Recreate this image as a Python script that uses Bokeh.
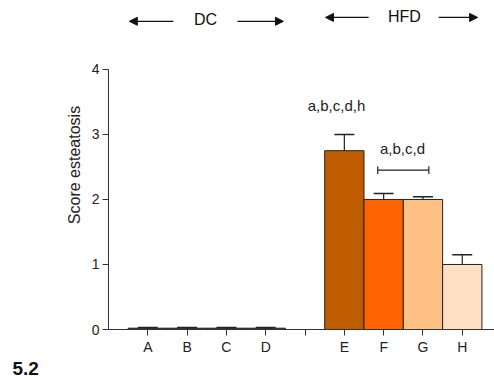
from bokeh.plotting import figure
from bokeh.models import (ColumnDataSource, Whisker, TeeHead, Arrow, NormalHead,
                          Label, FixedTicker, Range1d, Title)
from bokeh.embed import file_html
from bokeh.resources import INLINE

# ---- data ----
groups = ["A", "B", "C", "D", "E", "F", "G", "H"]
positions = [1, 2, 3, 4, 6, 7, 8, 9]
scores = [0.02, 0.02, 0.02, 0.02, 2.75, 2.0, 2.0, 1.0]
errors = [0.01, 0.01, 0.01, 0.01, 0.25, 0.09, 0.04, 0.15]
colors = ["#1f3b33", "#1f3b33", "#1f3b33", "#1f3b33",
          "#BF5C00", "#FF6200", "#FFC084", "#FFE0C2"]
sig_labels = ["a,b,c,d,h", "a,b,c,d"]
group_names = ["DC", "HFD"]
y_ticks = [0, 1, 2, 3, 4]
panel_label = "5.2"

FONT = "Liberation Sans"

p = figure(width=494, height=381, output_backend="svg", toolbar_location=None,
           x_range=Range1d(0, 9.82), y_range=Range1d(0, 5.06),
           min_border_left=108, min_border_bottom=52, min_border_top=0,
           min_border_right=0)
p.outline_line_color = None
p.grid.grid_line_color = None

src = ColumnDataSource(dict(x=positions, top=scores, color=colors,
                            up=[s + e for s, e in zip(scores, errors)]))
p.vbar(x="x", top="top", width=1.0, bottom=0, fill_color="color",
       line_color="#222222", line_width=1, source=src)

p.add_layout(Whisker(base="x", lower="top", upper="up", source=src,
                     lower_head=None,
                     upper_head=TeeHead(size=20, line_width=1.5, line_color="#222222"),
                     line_color="#222222", line_width=1.2, level="annotation"))

# axes
p.yaxis.bounds = (0, 4)
p.yaxis.ticker = FixedTicker(ticks=y_ticks)
p.yaxis.axis_label = "Score esteatosis"
p.yaxis.axis_label_text_font = FONT
p.yaxis.axis_label_text_font_style = "normal"
p.yaxis.axis_label_text_font_size = "16px"
p.yaxis.axis_label_text_color = "#222222"
p.yaxis.axis_label_standoff = 6
p.xaxis.ticker = FixedTicker(ticks=list(range(1, 10)))
overrides = {pos: g for pos, g in zip(positions, groups)}
overrides[5] = ""
p.xaxis.major_label_overrides = overrides
for ax in (p.xaxis, p.yaxis):
    ax.major_label_text_font = FONT
    ax.major_label_text_font_size = "14px"
    ax.major_label_text_color = "#222222"
    ax.axis_line_color = "#333333"
    ax.major_tick_line_color = "#333333"
    ax.major_tick_out = 6
    ax.major_tick_in = 0
    ax.minor_tick_line_color = None
    ax.major_label_standoff = 3

# significance labels
p.add_layout(Label(x=5.80, y=3.45, text=sig_labels[0], text_align="center",
                   text_baseline="middle", text_font=FONT,
                   text_font_size="15px", text_color="#222222"))
p.add_layout(Label(x=7.48, y=2.78, text=sig_labels[1], text_align="center",
                   text_baseline="middle", text_font=FONT,
                   text_font_size="15px", text_color="#222222"))
p.segment(x0=[6.85, 6.85, 8.15], y0=[2.45, 2.39, 2.39],
          x1=[8.15, 6.85, 8.15], y1=[2.45, 2.51, 2.51],
          line_color="#222222", line_width=1.2)

# group headers with arrows
ycap = 4.77
p.add_layout(Label(x=2.47, y=ycap, text=group_names[0], text_align="center",
                   text_baseline="middle", text_font=FONT,
                   text_font_size="16px", text_color="#111111"))
p.add_layout(Label(x=7.53, y=ycap + 0.05, text=group_names[1], text_align="center",
                   text_baseline="middle", text_font=FONT,
                   text_font_size="16px", text_color="#111111"))
arrows = [((1.65, ycap - 0.03), (0.53, ycap - 0.03)),
          ((3.28, ycap - 0.03), (4.45, ycap - 0.03)),
          ((6.62, ycap + 0.03), (5.52, ycap + 0.03)),
          ((8.40, ycap + 0.03), (9.39, ycap + 0.03))]
for (xs, ys), (xe, ye) in arrows:
    p.add_layout(Arrow(x_start=xs, y_start=ys, x_end=xe, y_end=ye,
                       line_width=1.3, line_color="#111111",
                       end=NormalHead(size=8, fill_color="#111111",
                                      line_color="#111111")))

p.add_layout(Title(text=panel_label, align="left", offset=-96, standoff=5,
                   text_font=FONT, text_font_style="bold",
                   text_font_size="19px", text_color="#111111"), "below")

open("out.html", "w").write(file_html(p, INLINE))
